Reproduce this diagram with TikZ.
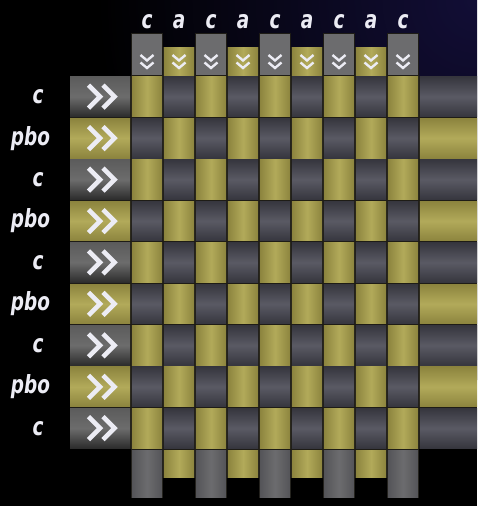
\documentclass[tikz,border=0pt]{standalone}
\usepackage{fontspec}
\newfontfamily\lblfont{DejaVu Sans Condensed Bold Oblique}
\definecolor{navy}{RGB}{18,14,54}
\definecolor{yelL}{RGB}{178,170,90}
\definecolor{yel}{RGB}{163,154,76}
\definecolor{yelD}{RGB}{140,132,62}
\definecolor{gryL}{RGB}{90,90,100}
\definecolor{gry}{RGB}{78,78,88}
\definecolor{gryD}{RGB}{54,54,62}
\definecolor{hdrL}{RGB}{108,108,108}
\definecolor{hdrD}{RGB}{44,44,44}
\definecolor{colG}{RGB}{108,108,110}
\definecolor{colGD}{RGB}{84,84,88}
\definecolor{gridbg}{RGB}{30,28,22}
\definecolor{txt}{RGB}{236,236,244}
\tikzset{
  ycell/.style={left color=yelD, right color=yelD, middle color=yelL},
  gcell/.style={top color=gryD, bottom color=gryD, middle color=gryL},
  rowyel/.style={top color=yelD, bottom color=yelD, middle color=yelL},
  rowgray/.style={top color=gryD, bottom color=gryD, middle color=gryL},
  ghdr/.style={top color=hdrL!85!black, bottom color=hdrD, middle color=hdrL},
  yhdr/.style={top color=yelD, bottom color=yelD, middle color=yelL},
  gcolx/.style={left color=colGD, right color=colGD, middle color=colG},
  ycolx/.style={left color=yelD, right color=yelD, middle color=yelL},
  chevr/.style={draw=txt, line width=4.6pt, miter limit=10},
  chevd/.style={draw=txt, line width=2.4pt, miter limit=10},
  lbl/.style={text=txt, inner sep=0pt, font=\lblfont\fontsize{25}{25}\selectfont}
}
\newcommand{\narrow}[1]{\scalebox{0.82}[1]{#1}}
\begin{document}
\begin{tikzpicture}[x=1pt,y=-1pt]
\useasboundingbox (0,0) rectangle (477,506);
\fill[black] (0,0) rectangle (477,506);
\begin{scope}
  \clip (0,0) rectangle (477,506);
  \shade[inner color=navy, outer color=black] (477,0) circle (380);
\end{scope}
% grid background
\fill[gridbg] (70,76) rectangle (477,449.4);
% column tops and bottoms
\foreach \j in {0,...,8}{
  \pgfmathsetmacro\xa{131+32*\j+0.8}
  \pgfmathsetmacro\xb{131+32*(\j+1)-0.8}
  \pgfmathsetmacro\cx{131+32*\j+16}
  \pgfmathtruncatemacro\pp{mod(\j,2)}
  \ifnum\pp=0
    \fill[gridbg] (\xa-0.8,33) rectangle (\xb+0.8,76);
    \fill[colG] (\xa,33.8) rectangle (\xb,75.2);
    \fill[gridbg] (\xa-0.8,449) rectangle (\xb+0.8,498);
    \shade[gcolx] (\xa,450.2) rectangle (\xb,497.2);
    \node[lbl] (t\j) at (\cx,22) {\narrow{c}};
  \else
    \fill[gridbg] (\xa-0.8,47) rectangle (\xb+0.8,76);
    \shade[ycolx] (\xa,47.8) rectangle (\xb,75.2);
    \fill[gridbg] (\xa-0.8,449) rectangle (\xb+0.8,478);
    \shade[ycolx] (\xa,450.2) rectangle (\xb,477.2);
    \node[lbl] (t\j) at (\cx,22) {\narrow{a}};
  \fi
  \draw[chevd] (\cx-6.5,55) -- (\cx,60.5) -- (\cx+6.5,55);
  \draw[chevd] (\cx-6.5,62.5) -- (\cx,68) -- (\cx+6.5,62.5);
}
% rows
\foreach \i in {0,...,8}{
  \pgfmathsetmacro\ya{76+41.44*\i+0.8}
  \pgfmathsetmacro\yb{76+41.44*(\i+1)-0.8}
  \pgfmathsetmacro\cy{76+41.44*\i+20.72}
  \pgfmathtruncatemacro\rp{mod(\i,2)}
  \ifnum\rp=0
    \shade[ghdr] (70,\ya) rectangle (130.2,\yb);
    \shade[rowgray] (419.8,\ya) rectangle (477,\yb);
    \node[lbl] (r\i) at (38,\cy) {\narrow{c}};
  \else
    \shade[yhdr] (70,\ya) rectangle (130.2,\yb);
    \shade[rowyel] (419.8,\ya) rectangle (477,\yb);
    \node[lbl] (r\i) at (30.5,\cy) {\narrow{pbo}};
  \fi
  \draw[chevr] (88.5,\cy-11.5) -- (100,\cy) -- (88.5,\cy+11.5);
  \draw[chevr] (103,\cy-11.5) -- (114.5,\cy) -- (103,\cy+11.5);
  \foreach \j in {0,...,8}{
    \pgfmathsetmacro\xa{131+32*\j+0.8}
    \pgfmathsetmacro\xb{131+32*(\j+1)-0.8}
    \pgfmathtruncatemacro\pp{mod(\i+\j,2)}
    \ifnum\pp=0
      \shade[ycell] (\xa,\ya) rectangle (\xb,\yb);
    \else
      \shade[gcell] (\xa,\ya) rectangle (\xb,\yb);
    \fi
  }
}
\end{tikzpicture}
\end{document}
